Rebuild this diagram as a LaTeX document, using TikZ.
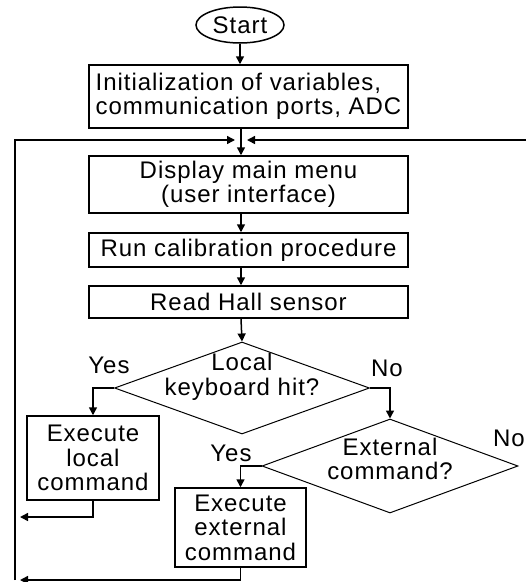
\documentclass[tikz,border=0pt]{standalone}
\usepackage{fontspec}
\setmainfont{Liberation Sans}[LetterSpace=4]
\usetikzlibrary{shapes.geometric, arrows.meta}

\begin{document}
\begin{tikzpicture}[x=1pt, y=-1pt, line width=1.5pt,
    font=\fontsize{24}{24.5}\selectfont,
    flow/.style={-{Triangle[length=8pt, width=8pt]}},
    stepbox/.style={draw, rectangle, inner sep=0pt, align=center},
    decision/.style={draw, diamond, inner sep=0pt, line width=1pt,
      minimum width=255pt, minimum height=92pt},
    dtext/.style={align=center}]
    \useasboundingbox (0,0) rectangle (526,582);

    % Start and set-up
    \node[draw, ellipse, minimum width=88pt, minimum height=36pt, inner sep=0pt] (start) at (240,25) {Start};
    \node[stepbox, minimum width=319pt, minimum height=63pt, align=left] (init) at (248.5,96.5) {Initialization of variables,\\communication ports, ADC};

    % Main loop
    \node[stepbox, minimum width=319pt, minimum height=57pt] (menu) at (248.5,184.5) {Display main menu\\(user interface)};
    \node[stepbox, minimum width=319pt, minimum height=34pt] (calib) at (248.5,250) {Run calibration procedure};
    \node[stepbox, minimum width=319pt, minimum height=32pt] (hall) at (248.5,302) {Read Hall sensor};

    % Decisions
    \node[decision] (keyhit) at (242,388) {};
    \node[dtext] (keytxt) at (242,377) {Local\\keyboard hit?};
    \node[decision, minimum width=256pt, minimum height=94pt] (extcmd) at (390,466) {};
    \node[dtext] (exttxt) at (390,459) {External\\command?};

    % Commands
    \node[stepbox, minimum width=132pt, minimum height=84pt] (locexec) at (93,458) {Execute\\local\\command};
    \node[stepbox, minimum width=131pt, minimum height=79pt] (extexec) at (240.5,527.5) {Execute\\external\\command};

    % Branch labels
    \node (yes1) at (109,365) {Yes};
    \node (no1) at (387,368) {No};
    \node (yes2) at (231,453) {Yes};
    \node (no2) at (509,438) {No};

    % Loop points
    \coordinate (join) at (241,140);
    \coordinate (rightend) at (526,140);
    \coordinate (back1) at (15,517);
    \coordinate (back2) at (15,580);

    % Connectors
    \draw[flow] (start) -- (start |- init.north);
    \draw[flow] (join |- init.south) -- (join |- menu.north);
    \draw[flow] (join |- menu.south) -- (join |- calib.north);
    \draw[flow] (join |- calib.south) -- (join |- hall.north);
    \draw[flow] (join |- hall.south) -- (keyhit.north);
    \draw[flow] (keyhit.west) -| (locexec.north);
    \draw[flow] (keyhit.east) -| (extcmd.north);
    \draw[flow] (extcmd.west) -| (extexec.north);
    \draw[flow, shorten >=5pt] (locexec.south) |- (back1);
    \draw[flow, shorten >=5pt] (extexec.south) |- (back2);
    \draw[flow, shorten >=6pt] (back2) |- (join);
    \draw[flow, shorten >=6pt] (rightend) -- (join);
\end{tikzpicture}
\end{document}
